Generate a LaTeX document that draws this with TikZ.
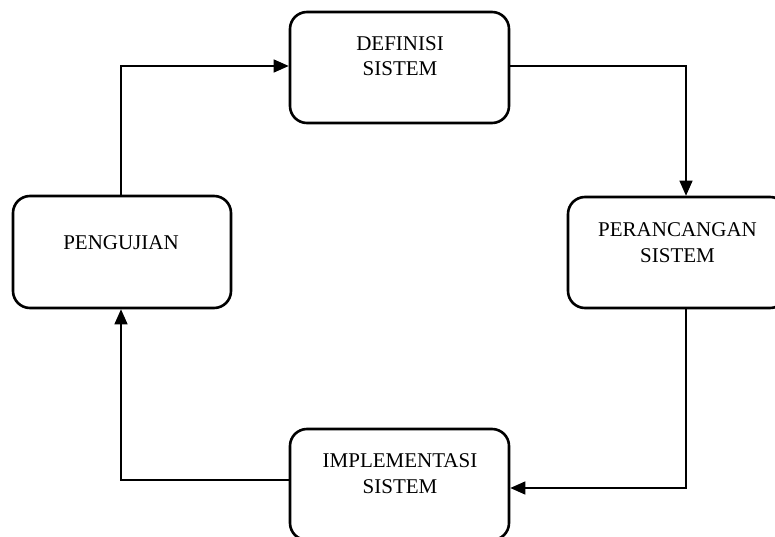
\documentclass[tikz,border=0pt]{standalone}
\usepackage{fontspec}
\setmainfont{Liberation Serif}
\usetikzlibrary{arrows.meta,calc}
\tikzset{
  stagebox/.style={draw=black, line width=2.6pt, rounded corners=17pt, minimum width=219pt, minimum height=111pt, inner sep=0pt},
  stagetext/.style={align=center, anchor=base, inner sep=0pt, font=\fontsize{21}{25.5}\selectfont},
  flow/.style={draw=black, line width=1.3pt, -{Triangle[length=15pt,width=13pt]}}
}
\begin{document}
\begin{tikzpicture}[x=1pt,y=-1pt]
\useasboundingbox (0,0) rectangle (775,537);
\clip (0,0) rectangle (775,537);
\node[stagebox] (def) at (399.5,67.5) {};
\node[stagebox] (per) at (677.5,252.5) {};
\node[stagebox, minimum width=218pt, minimum height=112pt] (pen) at (122,252) {};
\node[stagebox] (imp) at (399.5,484.5) {};
\node[stagetext] (deft) at (400,76) {DEFINISI\\SISTEM};
\node[stagetext] (pert) at (677.5,262) {PERANCANGAN\\SISTEM};
\node[stagetext] (pent) at (121,249) {PENGUJIAN};
\node[stagetext] (impt) at (400,493) {IMPLEMENTASI\\SISTEM};
\draw[flow] ($(pen.north)+(-1,0)$) |- ($(def.west)+(0,-1.5)$);
\draw[flow] ($(def.east)+(0,-1.5)$) -| ($(per.north)+(8.5,0)$);
\draw[flow] ($(per.south)+(8.5,0)$) |- ($(imp.east)+(0,3.5)$);
\draw[flow] ($(imp.west)+(0,-4.5)$) -| ($(pen.south)+(-1,0)$);
\end{tikzpicture}
\end{document}
